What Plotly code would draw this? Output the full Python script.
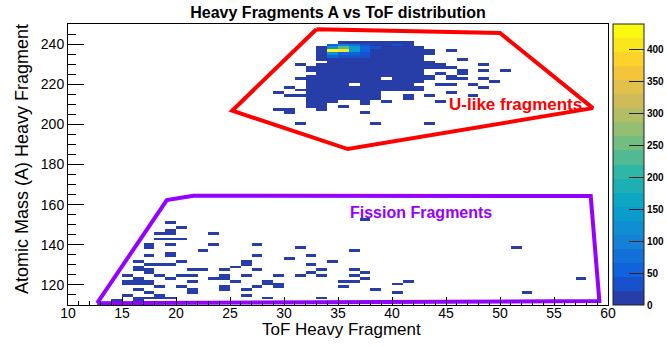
import numpy as np
import plotly.graph_objects as go

# ---------------- data ----------------
# histogram binning (ToF: 1 unit bins 10..60, mass: 1.4 unit bins 110..250)
tof_edges = np.arange(10, 61, 1.0)
mass_edges = 110 + 1.4 * np.arange(101)

# U-like fragment region: dense block, columns = ToF bin centres, rows = mass bin centres
u_tof = [28.5, 29.5, 30.5, 31.5, 32.5, 33.5, 34.5, 35.5, 36.5, 37.5, 38.5, 39.5,
         40.5, 41.5, 42.5, 43.5, 44.5, 45.5, 46.5, 47.5, 48.5, 49.5, 50.5]
u_mass = [240.9, 239.5, 238.1, 236.7, 235.3, 233.9, 232.5, 231.1, 229.7, 228.3,
          226.9, 225.5, 224.1, 222.7, 221.3, 219.9, 218.5, 217.1, 215.7, 214.3,
          212.9, 211.5, 210.1, 208.7, 207.3, 205.9, 200.3]
u_counts = [
    # 28 29 30 31 32 33  34   35   36  37  38  39  40 41 42 43 44 45 46 47 48 49 50
    [0, 0, 0, 0, 0, 0, 0, 18, 15, 12, 10, 8, 9, 6, 0, 0, 0, 0, 0, 0, 0, 0, 0],
    [0, 0, 0, 0, 0, 0, 60, 90, 70, 30, 20, 12, 35, 10, 0, 0, 0, 0, 0, 0, 0, 0, 0],
    [0, 0, 0, 0, 0, 8, 120, 230, 150, 50, 25, 15, 12, 10, 6, 0, 0, 0, 0, 0, 0, 0, 0],
    [0, 0, 0, 0, 0, 10, 440, 405, 140, 45, 20, 14, 11, 9, 7, 3, 0, 2, 0, 0, 0, 0, 0],
    [0, 0, 0, 0, 0, 9, 110, 60, 55, 40, 15, 12, 10, 8, 6, 2, 0, 0, 0, 0, 0, 0, 0],
    [0, 0, 0, 0, 0, 8, 50, 30, 30, 25, 12, 11, 9, 7, 5, 0, 0, 0, 0, 0, 0, 0, 0],
    [0, 0, 0, 0, 0, 7, 18, 20, 16, 14, 10, 9, 8, 6, 5, 0, 0, 0, 2, 0, 0, 0, 0],
    [0, 0, 0, 0, 0, 0, 15, 14, 13, 12, 9, 8, 7, 6, 4, 2, 0, 0, 0, 0, 0, 0, 0],
    [0, 0, 0, 1, 0, 6, 14, 12, 11, 10, 8, 7, 6, 5, 4, 2, 2, 0, 0, 0, 1, 0, 0],
    [0, 0, 0, 0, 3, 7, 12, 11, 10, 9, 8, 7, 6, 5, 3, 2, 2, 1, 0, 0, 0, 0, 0],
    [0, 0, 0, 0, 4, 6, 11, 10, 9, 9, 7, 6, 6, 4, 3, 0, 0, 0, 2, 0, 1, 0, 1],
    [0, 0, 0, 0, 0, 5, 10, 9, 8, 8, 6, 6, 5, 4, 3, 0, 1, 0, 1, 0, 0, 0, 0],
    [0, 0, 0, 0, 3, 5, 9, 9, 8, 7, 6, 5, 5, 3, 2, 2, 0, 1, 0, 0, 0, 0, 0],
    [0, 0, 0, 1, 3, 4, 8, 8, 7, 6, 5, 0, 4, 3, 2, 1, 0, 1, 1, 0, 1, 0, 0],
    [0, 0, 0, 0, 2, 4, 7, 7, 6, 5, 5, 4, 4, 3, 2, 0, 0, 0, 0, 0, 0, 1, 0],
    [0, 0, 0, 0, 2, 4, 6, 6, 0, 5, 4, 4, 3, 3, 0, 0, 1, 1, 0, 1, 0, 0, 0],
    [0, 0, 1, 0, 3, 3, 6, 5, 5, 4, 4, 3, 3, 2, 1, 0, 0, 0, 0, 0, 1, 0, 0],
    [0, 0, 0, 1, 2, 3, 5, 5, 4, 4, 3, 3, 2, 2, 1, 0, 0, 0, 0, 0, 0, 0, 0],
    [0, 1, 0, 0, 2, 3, 4, 4, 3, 3, 2, 0, 0, 0, 0, 0, 0, 1, 0, 0, 0, 0, 0],
    [0, 0, 1, 1, 2, 3, 4, 3, 3, 3, 2, 0, 0, 1, 0, 1, 0, 0, 0, 1, 0, 0, 0],
    [0, 0, 0, 0, 2, 2, 3, 3, 2, 2, 1, 0, 0, 1, 0, 0, 0, 0, 0, 0, 0, 0, 0],
    [0, 0, 0, 0, 1, 2, 1, 0, 0, 2, 0, 1, 0, 0, 0, 0, 1, 0, 0, 0, 0, 0, 0],
    [0, 0, 0, 0, 1, 1, 0, 0, 0, 1, 0, 0, 0, 0, 0, 0, 0, 0, 0, 0, 0, 0, 0],
    [0, 0, 0, 0, 1, 1, 0, 1, 0, 0, 0, 0, 0, 0, 0, 0, 0, 0, 0, 0, 0, 0, 0],
    [0, 1, 1, 0, 0, 1, 0, 0, 0, 0, 0, 0, 0, 0, 0, 0, 0, 0, 0, 0, 0, 0, 0],
    [0, 0, 1, 0, 0, 0, 0, 0, 0, 1, 0, 0, 0, 0, 0, 0, 0, 0, 0, 0, 0, 0, 0],
    [0, 0, 0, 1, 0, 0, 0, 0, 0, 0, 1, 0, 0, 0, 0, 1, 0, 0, 0, 0, 0, 0, 0],
]

# Fission fragment region: sparse entries
f_tof = [19.5, 20.5, 19.5, 19.5, 18.5, 18.5, 20.5, 19.5, 17.5, 17.5, 19.5, 22.5,
         19.5, 17.5, 19.5, 16.5, 20.5, 18.5, 17.5, 19.5, 16.5, 17.5, 22.5, 16.5,
         21.5, 17.5, 15.5, 18.5, 20.5, 21.5, 19.5, 16.5, 17.5, 21.5, 15.5, 15.5,
         16.5, 16.5, 17.5, 18.5, 20.5, 16.5, 21.5, 17.5, 21.5, 15.5, 18.5, 16.5,
         19.5, 17.5, 14.5, 16.5, 18.5,
         23.5, 23.5, 27.5, 31.5, 27.5, 32.5, 30.5, 26.5, 26.5, 32.5, 34.5, 25.5,
         24.5, 27.5, 33.5, 32.5, 29.5, 23.5, 24.5, 24.5, 26.5, 31.5, 33.5, 25.5,
         28.5, 35.5, 28.5, 29.5, 24.5, 27.5, 29.5, 35.5, 24.5, 26.5, 26.5, 28.5,
         33.5,
         37.5, 36.5, 36.5, 37.5, 36.5, 36.5, 37.5, 38.5, 40.5, 41.5, 40.5, 51.5,
         52.5, 57.5]
f_mass = [151.1, 149.0, 146.8, 145.6, 145.1, 142.3, 142.8, 142.3, 140.6, 139.3, 140.6, 137.3,
          136.1, 134.0, 134.0, 132.3, 132.3, 130.6, 130.6, 129.8, 129.0, 128.1, 128.1, 127.3,
          127.3, 126.5, 124.8, 124.8, 124.8, 124.8, 123.1, 123.1, 122.3, 122.3, 121.5, 120.3,
          121.5, 120.3, 120.3, 118.5, 118.5, 117.3, 117.3, 116.1, 116.1, 115.1, 115.1, 114.0,
          114.0, 112.8, 111.8, 111.8, 113.3,
          146.1, 140.1, 140.1, 139.0, 134.0, 135.1, 133.1, 131.5, 129.8, 130.6, 131.1, 129.0,
          127.0, 127.0, 127.0, 126.1, 124.8, 123.1, 124.0, 123.1, 124.0, 124.0, 124.0, 122.0,
          122.0, 122.0, 120.6, 120.8, 119.0, 119.0, 119.0, 119.0, 117.0, 117.0, 114.8, 112.8,
          112.8,
          152.0, 137.0, 127.0, 126.0, 124.0, 122.0, 123.0, 118.0, 121.0, 122.0, 116.0, 139.0,
          116.0, 123.0]
f_count = [1, 1, 2, 2, 1, 1, 1, 1, 2, 2, 1, 1,
           1, 1, 1, 1, 1, 1, 1, 1, 2, 2, 1, 2,
           1, 1, 2, 1, 1, 1, 1, 2, 1, 1, 2, 2,
           2, 2, 1, 1, 1, 1, 1, 1, 1, 1, 1, 2,
           1, 1, 1, 1, 1,
           1, 1, 1, 1, 1, 1, 1, 2, 2, 2, 1, 1,
           1, 1, 1, 1, 1, 1, 2, 1, 1, 1, 1, 1,
           1, 1, 1, 1, 1, 1, 1, 1, 1, 1, 1, 1,
           1,
           1, 1, 1, 1, 1, 1, 1, 1, 1, 1, 1, 1,
           1, 1]

# graphical cuts (polygons)
u_cut_tof = [33.0, 50.0, 58.6, 35.9, 25.2, 33.0]
u_cut_mass = [247.4, 245.5, 208.1, 187.7, 206.8, 247.4]
f_cut_tof = [12.7, 19.15, 21.6, 58.4, 59.2, 12.7]
f_cut_mass = [110.9, 162.3, 164.4, 164.3, 112.0, 110.9]

# ---------------- build 2D histogram ----------------
nx, ny = len(tof_edges) - 1, len(mass_edges) - 1
z = np.zeros((ny, nx))


def fill(t, m, c):
    ix = int(np.floor(t - tof_edges[0]))
    iy = int(np.floor((m - mass_edges[0]) / 1.4 + 1e-9))
    if 0 <= ix < nx and 0 <= iy < ny:
        z[iy, ix] += c


for r, m in enumerate(u_mass):
    for c, t in enumerate(u_tof):
        if u_counts[r][c]:
            fill(t, m, u_counts[r][c])
for t, m, c in zip(f_tof, f_mass, f_count):
    fill(t, m, c)

zmax = float(z.max())
z_list = [[(v if v > 0 else None) for v in row] for row in z]
x_c = 0.5 * (tof_edges[:-1] + tof_edges[1:])
y_c = 0.5 * (mass_edges[:-1] + mass_edges[1:])

# ROOT kBird palette with 20 contour levels
st = [0.0, 0.125, 0.25, 0.375, 0.5, 0.625, 0.75, 0.875, 1.0]
rr = [0.2082, 0.0592, 0.0780, 0.0232, 0.1802, 0.5301, 0.8186, 0.9956, 0.9764]
gg = [0.1664, 0.3599, 0.5041, 0.6419, 0.7178, 0.7492, 0.7328, 0.7862, 0.9832]
bb = [0.5293, 0.8684, 0.8385, 0.7914, 0.6425, 0.4662, 0.3499, 0.1968, 0.0539]
nlev = 20
cscale = []
for i in range(nlev):
    t = int((i + 0.99) * 255 / nlev) / 255.0
    col = "rgb(%d,%d,%d)" % (round(255 * np.interp(t, st, rr)),
                             round(255 * np.interp(t, st, gg)),
                             round(255 * np.interp(t, st, bb)))
    cscale.append([i / nlev, col])
    cscale.append([(i + 1) / nlev, col])

FONT = "Liberation Sans"

fig = go.Figure()
fig.add_trace(go.Heatmap(
    x=x_c, y=y_c, z=z_list, zmin=0, zmax=zmax, colorscale=cscale,
    hoverinfo="skip",
    colorbar=dict(
        x=1.0093, xanchor="left", xpad=0, y=0.5, yanchor="middle", len=1, ypad=0,
        thickness=31, thicknessmode="pixels",
        outlinewidth=1, outlinecolor="#222",
        tick0=0, dtick=50, ticks="inside", ticklen=15, tickcolor="#222",
        tickfont=dict(family=FONT, size=10, color="#000", weight="bold"),
    ),
))
fig.add_trace(go.Scatter(x=u_cut_tof, y=u_cut_mass, mode="lines",
                         line=dict(color="#ff0000", width=4), hoverinfo="skip"))
fig.add_trace(go.Scatter(x=f_cut_tof, y=f_cut_mass, mode="lines",
                         line=dict(color="#9500ff", width=4), hoverinfo="skip"))

fig.update_layout(
    width=667, height=347,
    margin=dict(l=68, r=59, t=24, b=42, autoexpand=False),
    paper_bgcolor="white", plot_bgcolor="white",
    showlegend=False,
    title=dict(text="<b>Heavy Fragments A vs ToF distribution</b>",
               x=0.5, xref="paper", xanchor="center",
               y=1 - 12 / 347, yref="container", yanchor="middle",
               font=dict(family=FONT, size=16, color="#000")),
    xaxis=dict(range=[10, 60], tick0=10, dtick=5, ticks="inside", ticklen=8,
               tickcolor="#000", showgrid=False, zeroline=False,
               showline=True, linecolor="#000", linewidth=1, mirror=True,
               ticklabelstandoff=-5,
               tickfont=dict(family=FONT, size=14, color="#000"),
               minor=dict(dtick=1, ticks="inside", ticklen=4, tickcolor="#000")),
    yaxis=dict(range=[110, 250], tick0=120, dtick=20, ticks="inside", ticklen=16,
               tickcolor="#000", showgrid=False, zeroline=False,
               showline=True, linecolor="#000", linewidth=1, mirror=True,
               tickfont=dict(family=FONT, size=14, color="#000"),
               minor=dict(dtick=5, ticks="inside", ticklen=8, tickcolor="#000")),
    annotations=[
        dict(text="ToF Heavy Fragment", xref="paper", yref="paper",
             x=0.506, y=-0.087, xanchor="center", yanchor="middle", showarrow=False,
             font=dict(family=FONT, size=17, color="#000")),
        dict(text="Atomic Mass (A) Heavy Fragment", xref="paper", yref="paper",
             x=-0.085, y=0.52, xanchor="center", yanchor="middle", textangle=-90,
             showarrow=False, font=dict(family=FONT, size=18, color="#000")),
        dict(text="<b>U-like fragments</b>", xref="x", yref="y", x=51.4, y=210.1,
             showarrow=False, font=dict(family=FONT, size=17, color="#ff0000")),
        dict(text="<b>Fission Fragments</b>", xref="x", yref="y", x=42.7, y=156.3,
             showarrow=False, font=dict(family=FONT, size=16, color="#9500ff")),
    ],
)

fig.write_html("out.html", config={"staticPlot": True, "displayModeBar": False},
               post_script="document.body.style.margin='0px';")
